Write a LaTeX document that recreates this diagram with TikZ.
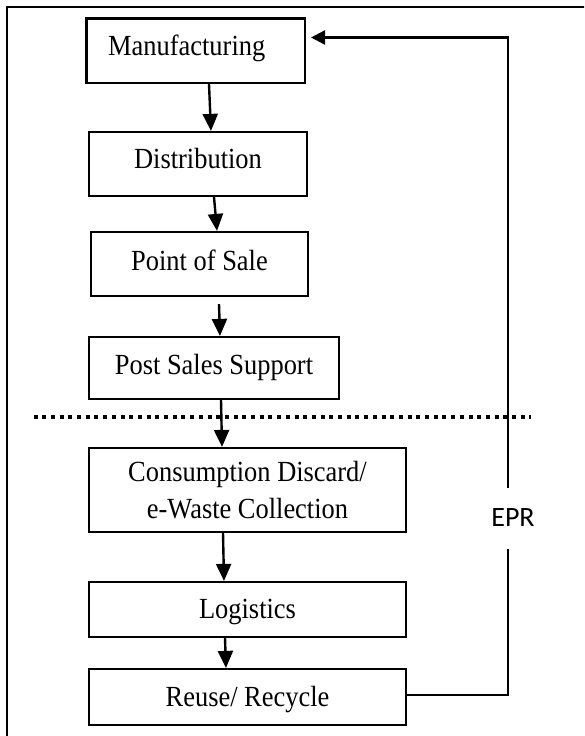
\documentclass[tikz,border=0pt]{standalone}
\usepackage{fontspec}
\setmainfont{Liberation Serif}[FakeStretch=0.905]
\newfontfamily\eprfont{Carlito}
\usetikzlibrary{arrows.meta}
\begin{document}
\begin{tikzpicture}[x=1pt,y=-1pt,
  stagebox/.style={draw, line width=2.2pt, inner sep=0pt, font=\fontsize{29.2}{37}\selectfont, align=center},
  oneline/.style={text depth=6pt, text height=#1},
  flowarrow/.style={line width=2.4pt, -{Triangle[width=15pt,length=17pt]}},
  eprline/.style={line width=2.3pt, line join=miter},
]
\useasboundingbox (0,0) rectangle (584,736);
\begin{scope}
  \clip (0,0) rectangle (584,736);
  \draw[line width=2pt] (6.5,6.5) rectangle (600,760);
\end{scope}

\node[stagebox, oneline=14.5pt, minimum width=218.5pt, minimum height=64.5pt] (man) at (195.75,50.75) {Manufacturing\hspace*{18pt}};
\node[stagebox, oneline=14.6pt, minimum width=218pt, minimum height=64pt] (dist) at (198,164) {Distribution};
\node[stagebox, oneline=18pt, minimum width=217pt, minimum height=64pt] (pos) at (199.5,264) {Point of Sale};
\node[stagebox, oneline=18.6pt, minimum width=250pt, minimum height=62pt] (pss) at (214,368) {Post Sales Support};
\node[stagebox, minimum width=317pt, minimum height=84pt] (cons) at (247.5,490) {Consumption Discard/\\e-Waste Collection};
\node[stagebox, oneline=23.6pt, minimum width=317pt, minimum height=55pt] (log) at (247.5,609.5) {Logistics};
\node[stagebox, oneline=25.4pt, minimum width=317pt, minimum height=56pt] (reuse) at (247.5,697) {Reuse/ Recycle};

\draw[flowarrow] ([xshift=13.25pt]man.south) -- ([xshift=13pt]dist.north);
\draw[flowarrow] ([xshift=16pt]dist.south) -- ([xshift=17.5pt]pos.north);
\draw[flowarrow] ([xshift=19.5pt,yshift=-7pt]pos.south) -- ([xshift=6pt]pss.north);
\draw[flowarrow] ([xshift=7pt]pss.south) -- ([xshift=-25.5pt]cons.north);
\draw[flowarrow] ([xshift=-24.5pt]cons.south) -- ([xshift=-23.5pt]log.north);
\draw[flowarrow] ([xshift=-22.5pt]log.south) -- ([xshift=-21.5pt]reuse.north);

\coordinate (dl) at (33.5,417);
\coordinate (dr) at (531,417);
\draw[line width=4pt, dash pattern=on 4pt off 4.7pt] (dl) -- (dr);

\node[font=\eprfont\fontsize{28}{30}\selectfont, inner sep=0pt] (epr) at (513,518) {EPR};
\coordinate (eprlow) at (508,549);
\coordinate (eprhigh) at (508,488);
\coordinate (eprtop) at (508,37.5);
\coordinate (mantip) at (311,37.5);
\draw[eprline] ([yshift=2pt]reuse.east) -| (eprlow);
\draw[eprline, -{Triangle[width=14pt,length=14pt]}] (eprhigh) -- (eprtop) -- (mantip);
\end{tikzpicture}
\end{document}
